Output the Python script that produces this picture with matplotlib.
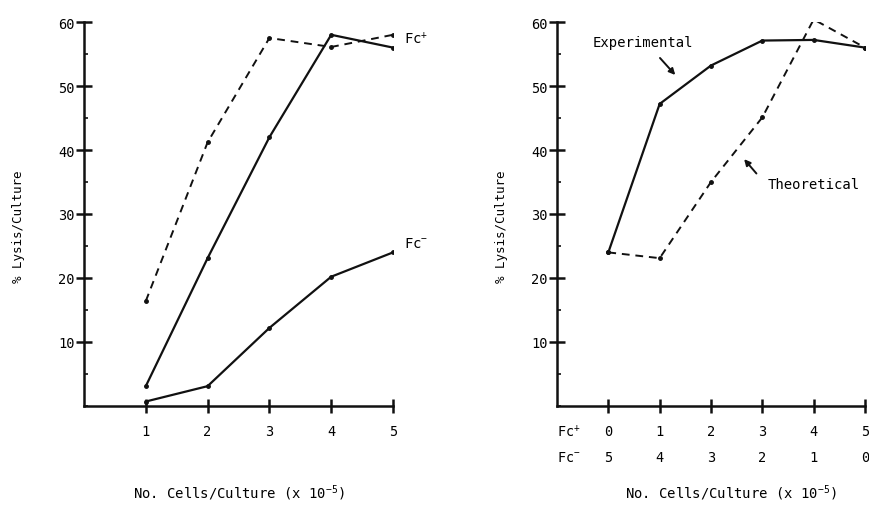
import matplotlib
matplotlib.use("Agg")
import matplotlib.pyplot as plt
from matplotlib.ticker import MultipleLocator

plt.rcParams['font.family'] = ['DejaVu Sans Mono']
plt.rcParams['mathtext.fontset'] = 'custom'
plt.rcParams['mathtext.rm'] = 'DejaVu Sans Mono'
plt.rcParams['mathtext.it'] = 'DejaVu Sans Mono'
plt.rcParams['mathtext.bf'] = 'DejaVu Sans Mono'

# Left panel data
left_x = [1, 2, 3, 4, 5]
fcplus_solid = [3.1, 23.1, 42.0, 58.0, 56.0]
fcplus_dashed = [16.4, 41.2, 57.5, 56.1, 58.0]
fcminus_solid = [0.7, 3.1, 12.2, 20.2, 24.0]

# Right panel data
right_x = [0, 1, 2, 3, 4, 5]
fcplus_ticks = ['0', '1', '2', '3', '4', '5']
fcminus_ticks = ['5', '4', '3', '2', '1', '0']
experimental = [24.0, 47.2, 53.2, 57.1, 57.2, 56.0]
theoretical = [24.0, 23.1, 35.0, 45.1, 60.4, 56.0]

yticks = [10, 20, 30, 40, 50, 60]
ink = '#111111'
tfs = 9.8

fig = plt.figure(figsize=(8.7, 5.06), dpi=100)
ax1 = fig.add_axes([84/870, 99/506, 309/870, 384/506])
ax2 = fig.add_axes([557/870, 99/506, 308/870, 384/506])

for ax in (ax1, ax2):
    for s in ('top', 'right'):
        ax.spines[s].set_visible(False)
    for s in ('left', 'bottom'):
        ax.spines[s].set_linewidth(1.8)
        ax.spines[s].set_color(ink)
    ax.set_ylim(0, 60)
    ax.set_yticks(yticks)
    ax.yaxis.set_minor_locator(MultipleLocator(5))
    ax.tick_params(axis='y', which='major', direction='inout', length=11, width=1.8,
                   labelsize=tfs, color=ink, pad=1)
    ax.tick_params(axis='y', which='minor', direction='in', length=3, width=1.2, color=ink)
    ax.tick_params(axis='x', which='major', direction='inout', length=10, width=1.8,
                   labelsize=tfs, color=ink, pad=8)
    ax.set_ylabel('% Lysis/Culture', fontsize=9)

# Left panel
ax1.set_xlim(0, 5)
ax1.set_xticks(left_x)
ax1.plot(left_x, fcplus_solid, '-', color=ink, lw=1.6, marker='o', ms=2.5)
ax1.plot(left_x, fcplus_dashed, '--', color=ink, lw=1.4, marker='o', ms=2.5, dashes=(4, 3))
ax1.plot(left_x, fcminus_solid, '-', color=ink, lw=1.6, marker='o', ms=2.5)
ax1.text(5.18, 57.5, r'Fc$^{+}$', fontsize=10, ha='left', va='center', clip_on=False)
ax1.text(5.18, 25.5, r'Fc$^{-}$', fontsize=10, ha='left', va='center', clip_on=False)
ax1.set_xlabel(r'No. Cells/Culture (x 10$^{-5}$)', fontsize=10)
ax1.xaxis.set_label_coords(0.5, -0.2)
ax1.yaxis.set_label_coords(-0.19, 0.47)

# Right panel
ax2.set_xlim(-1, 5)
ax2.set_xticks(right_x)
ax2.set_xticklabels(fcplus_ticks)
ax2.plot(right_x, experimental, '-', color=ink, lw=1.6, marker='o', ms=2.5)
ax2.plot(right_x, theoretical, '--', color=ink, lw=1.4, marker='o', ms=2.5, dashes=(4, 3))
for xv, lab in zip(right_x, fcminus_ticks):
    ax2.text(xv, -8.0, lab, fontsize=tfs, ha='center', va='center', clip_on=False)
ax2.text(-1, -3.9, r'Fc$^{+}$', fontsize=tfs, ha='left', va='center', clip_on=False)
ax2.text(-1, -8.0, r'Fc$^{-}$', fontsize=tfs, ha='left', va='center', clip_on=False)
ax2.set_xlabel(r'No. Cells/Culture (x 10$^{-5}$)', fontsize=10)
ax2.xaxis.set_label_coords(0.565, -0.2)
ax2.yaxis.set_label_coords(-0.16, 0.47)

ax2.text(-0.31, 56.9, 'Experimental', fontsize=10, ha='left', va='center')
ax2.annotate('', xy=(1.34, 51.4), xytext=(0.97, 54.7),
             arrowprops=dict(arrowstyle='-|>', color=ink, lw=1.4, mutation_scale=9))
ax2.text(3.11, 34.7, 'Theoretical', fontsize=10, ha='left', va='center', clip_on=False)
ax2.annotate('', xy=(2.61, 38.9), xytext=(2.92, 36.0),
             arrowprops=dict(arrowstyle='-|>', color=ink, lw=1.4, mutation_scale=9))

fig.savefig('out.png', dpi=100)
